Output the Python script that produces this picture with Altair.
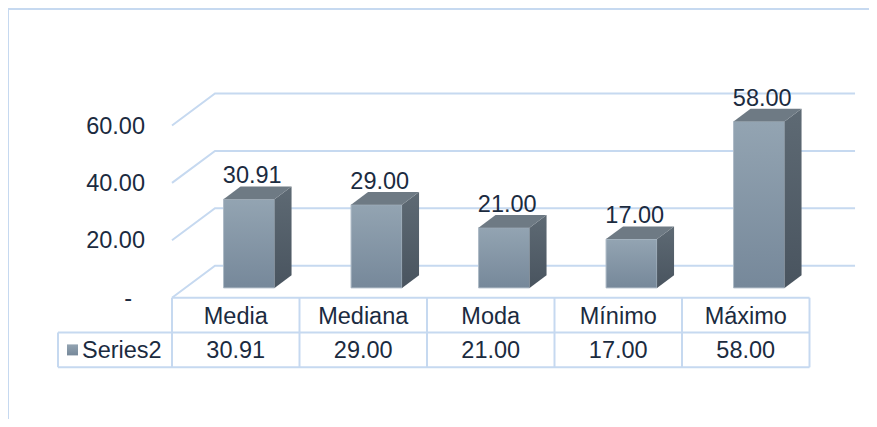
import altair as alt
import pandas as pd

# ---------------- data ----------------
categories = ["Media", "Mediana", "Moda", "Mínimo", "Máximo"]
values = [30.91, 29.00, 21.00, 17.00, 58.00]
value_labels = ["30.91", "29.00", "21.00", "17.00", "58.00"]
tick_values = [0, 20, 40, 60]
tick_labels = ["-", "20.00", "40.00", "60.00"]
series_name = "Series2"

# ---------------- layout (scale units) ----------------
W, H = 861, 411
PX_PER_COL = 127.5
PX_PER_VAL = 2.87
X0PX = 164.0
Y0PX = 289.7
x_dom = [-X0PX / PX_PER_COL, (W - X0PX) / PX_PER_COL]
y_dom = [-(H - Y0PX) / PX_PER_VAL, Y0PX / PX_PER_VAL]
xs = alt.Scale(domain=x_dom, nice=False, zero=False)
ys = alt.Scale(domain=y_dom, nice=False, zero=False)

N = len(categories)
DX, DY = 43 / PX_PER_COL, 32 / PX_PER_VAL          # full depth of the 3D box
BW = 51 / PX_PER_COL                                # bar width
BDX, BDY = 17 / PX_PER_COL, 12.7 / PX_PER_VAL       # bar depth
OFX, OFY = 13.3 / PX_PER_COL, 9.8 / PX_PER_VAL      # bar offset into the depth
ROW = 34.8 / PX_PER_VAL                             # table row height
XS = -114 / PX_PER_COL                              # series-name cell left

GRID = "#c6d9f0"
TXT = "#1b2b3f"
FONT = "Liberation Sans"
FS = 23.5


def grad(c1, c2):
    return alt.LinearGradient(
        gradient="linear",
        stops=[alt.GradientStop(color=c1, offset=0), alt.GradientStop(color=c2, offset=1)],
        x1=0, x2=0, y1=0, y2=1,
    )


def X(f="x"):
    return alt.X(f"{f}:Q", scale=xs, axis=None)


def Y(f="y"):
    return alt.Y(f"{f}:Q", scale=ys, axis=None, stack=None)


# ---------------- gridlines (back wall + left wall) ----------------
g_rows = []
for v in tick_values:
    g_rows += [
        {"g": v, "o": 0, "x": 0, "y": v},
        {"g": v, "o": 1, "x": DX, "y": v + DY},
        {"g": v, "o": 2, "x": N + DX + 0.02, "y": v + DY},
    ]
grid = alt.Chart(pd.DataFrame(g_rows)).mark_line(color=GRID, strokeWidth=2).encode(
    x=X(), y=Y(), detail="g:N", order="o:Q"
)

# ---------------- bars ----------------
front_rows, side_rows, top_rows, lab_rows = [], [], [], []
for i, (c, v, t) in enumerate(zip(categories, values, value_labels)):
    x0 = i + 0.5 - BW / 2 + OFX
    x1 = x0 + BW
    yb = OFY
    yt = OFY + v
    front_rows.append({"c": c, "x": x0, "x2": x1, "y": yb, "y2": yt})
    side_rows += [
        {"c": c, "x": x1, "y": yb, "y2": yt},
        {"c": c, "x": x1 + BDX, "y": yb + BDY, "y2": yt + BDY},
    ]
    top_rows += [
        {"c": c, "x": x0, "y": yt, "y2": yt},
        {"c": c, "x": x0 + BDX, "y": yt, "y2": yt + BDY},
        {"c": c, "x": x1, "y": yt, "y2": yt + BDY},
        {"c": c, "x": x1 + BDX, "y": yt + BDY, "y2": yt + BDY},
    ]
    lab_rows.append({"x": (x0 + x1) / 2 + 0.025, "y": yt + BDY, "t": t})

front = alt.Chart(pd.DataFrame(front_rows)).mark_rect(
    fill=grad("#93a4b2", "#76889a"), stroke="#aebac6", strokeWidth=1
).encode(x=X(), x2="x2:Q", y=Y(), y2="y2:Q")

side = alt.Chart(pd.DataFrame(side_rows)).mark_area(
    color=grad("#5e6a74", "#49545f"), opacity=1
).encode(x=X(), y=Y(), y2="y2:Q", detail="c:N")

top = alt.Chart(pd.DataFrame(top_rows)).mark_area(color="#6e7a84", opacity=1).encode(
    x=X(), y=Y(), y2="y2:Q", detail="c:N"
)

labels = alt.Chart(pd.DataFrame(lab_rows)).mark_text(
    font=FONT, fontSize=FS, color=TXT, baseline="alphabetic", align="center", dy=-3
).encode(x=X(), y=Y(), text="t:N")

# ---------------- y axis labels ----------------
ax_df = pd.DataFrame({"y": tick_values, "t": tick_labels, "x": [-0.212] * len(tick_values)})
ax_nonzero = alt.Chart(ax_df).transform_filter("datum.y != 0").mark_text(
    font=FONT, fontSize=FS, color=TXT, align="right", baseline="middle", dy=1
).encode(x=X(), y=Y(), text="t:N")
ax_zero = alt.Chart(ax_df).transform_filter("datum.y == 0").mark_text(
    font=FONT, fontSize=FS, color=TXT, align="right", baseline="middle", dx=-13, dy=1
).encode(x=X(), y=Y(), text="t:N")

# ---------------- data table ----------------
t_rows = [
    {"x": 0, "x2": N, "y": 0, "y2": 0},
    {"x": XS, "x2": N, "y": -ROW, "y2": -ROW},
    {"x": XS, "x2": N, "y": -2 * ROW, "y2": -2 * ROW},
    {"x": XS, "x2": XS, "y": -ROW, "y2": -2 * ROW},
]
for k in range(N + 1):
    t_rows.append({"x": k, "x2": k, "y": 0, "y2": -2 * ROW})
table_lines = alt.Chart(pd.DataFrame(t_rows)).mark_rule(color=GRID, strokeWidth=2).encode(
    x=X(), x2="x2:Q", y=Y(), y2="y2:Q"
)

head_df = pd.DataFrame({"x": [i + 0.5 for i in range(N)], "y": [-ROW / 2] * N, "t": categories})
val_df = pd.DataFrame({"x": [i + 0.5 for i in range(N)], "y": [-1.5 * ROW] * N, "t": value_labels})
head = alt.Chart(head_df).mark_text(
    font=FONT, fontSize=FS, color=TXT, align="center", baseline="middle", dy=2
).encode(x=X(), y=Y(), text="t:N")
vals = alt.Chart(val_df).mark_text(
    font=FONT, fontSize=FS, color=TXT, align="center", baseline="middle", dy=1
).encode(x=X(), y=Y(), text="t:N")

key_df = pd.DataFrame({
    "x": [XS + 9 / PX_PER_COL], "x2": [XS + 20 / PX_PER_COL],
    "y": [-1.5 * ROW - 5.5 / PX_PER_VAL], "y2": [-1.5 * ROW + 5.5 / PX_PER_VAL],
})
key = alt.Chart(key_df).mark_rect(fill=grad("#93a4b2", "#76889a")).encode(
    x=X(), x2="x2:Q", y=Y(), y2="y2:Q"
)
sname = alt.Chart(pd.DataFrame({"x": [XS + 24 / PX_PER_COL], "y": [-1.5 * ROW], "t": [series_name]})).mark_text(
    font=FONT, fontSize=FS, color=TXT, align="left", baseline="middle", dy=1
).encode(x=X(), y=Y(), text="t:N")

# ---------------- outer chart border (top and left edges) ----------------
border_top = alt.Chart(pd.DataFrame({"a": [0]})).mark_rule(color=GRID, strokeWidth=2).encode(
    x=alt.value(0), x2=alt.value(W), y=alt.value(1)
)
border_left = alt.Chart(pd.DataFrame({"a": [0]})).mark_rule(color=GRID, strokeWidth=2).encode(
    x=alt.value(0), y=alt.value(1), y2=alt.value(H)
)

chart = alt.layer(
    border_top, border_left, grid, front, side, top, labels,
    ax_nonzero, ax_zero, table_lines, head, vals, key, sname,
).properties(
    width=W, height=H, padding=0, autosize=alt.AutoSizeParams(type="none"),
    background="white",
).configure_view(stroke=None)

chart.save("out.html", embed_options={"renderer": "svg", "actions": False})
